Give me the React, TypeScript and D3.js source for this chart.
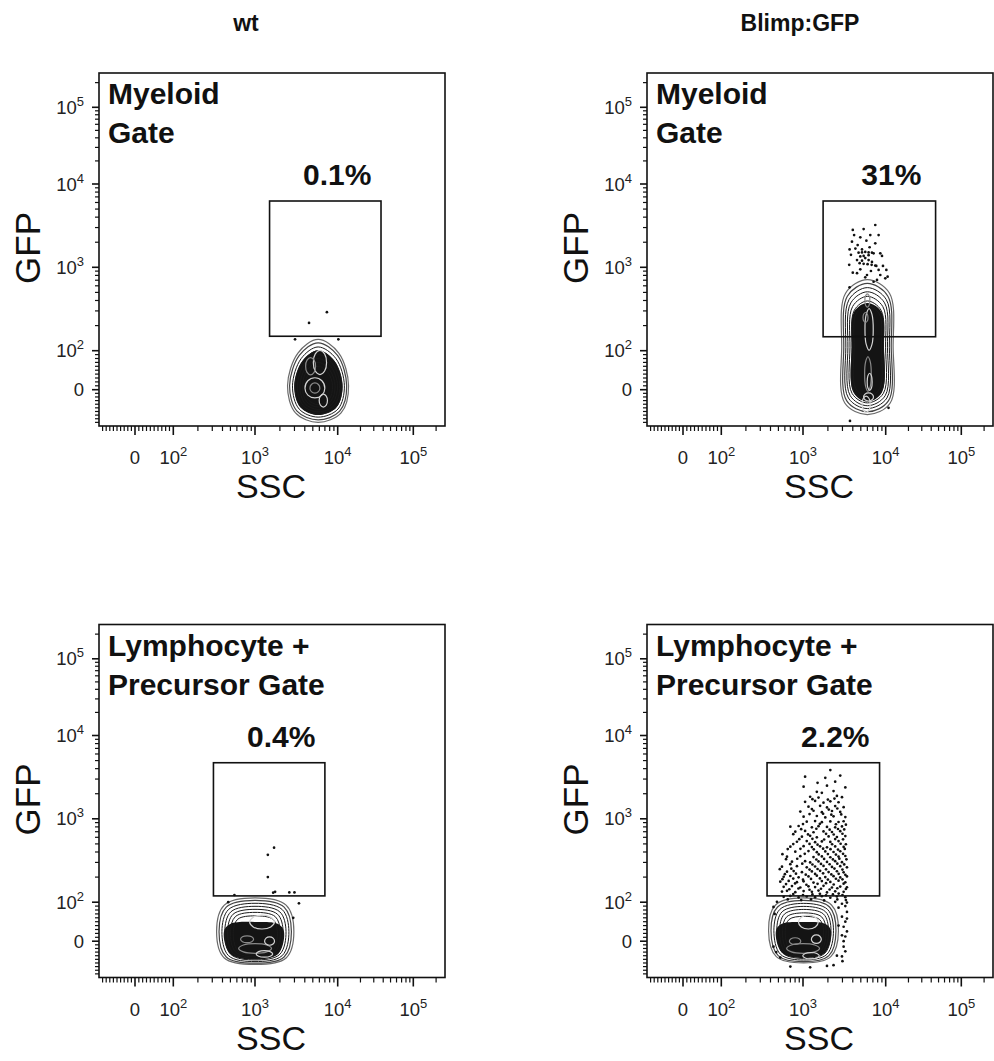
import React from 'react';
import * as d3 from 'd3';

const FONT = '"Liberation Sans", Arial, Helvetica, sans-serif';

// headers and annotations
const columnTitles = ['wt', 'Blimp:GFP'];
const rowGateNames = [['Myeloid', 'Gate'], ['Lymphocyte +', 'Precursor Gate']];
const gatePercents = ['0.1%', '31%', '0.4%', '2.2%'];

// GFP+ gate per panel: [sscMin, sscMax, gfpMin, gfpMax]
const gateBounds = [
  [1500, 37400, 149, 6250],
  [1750, 45700, 147, 6250],
  [310, 7000, 119, 4710],
  [363, 8430, 119, 4710],
];

// centre of the main population per panel: [ssc, gfp]
const clusterCenters = [[5800, 10], [6000, 110], [1000, 25], [1020, 27]];

// contour levels, outer -> inner, extents [left, right, up, down] in display decades
const contoursTL = [
  [0.37, 0.38, 0.54, 0.45],
  [0.345, 0.355, 0.5, 0.42],
  [0.31, 0.325, 0.45, 0.385],
  [0.28, 0.295, 0.405, 0.35],
  [0.25, 0.265, 0.36, 0.32],
  [0.22, 0.235, 0.315, 0.29],
  [0.19, 0.205, 0.27, 0.26],
  [0.16, 0.175, 0.225, 0.23],
];
const contoursTR = [
  [0.31, 0.32, 0.81, 0.8],
  [0.285, 0.295, 0.765, 0.765],
  [0.26, 0.27, 0.715, 0.725],
  [0.235, 0.245, 0.665, 0.69],
  [0.21, 0.22, 0.61, 0.655],
  [0.185, 0.195, 0.555, 0.62],
  [0.16, 0.17, 0.5, 0.58],
];
const contoursBL = [
  [0.47, 0.47, 0.39, 0.4],
  [0.44, 0.44, 0.36, 0.385],
  [0.405, 0.41, 0.325, 0.365],
  [0.37, 0.375, 0.29, 0.345],
  [0.335, 0.34, 0.255, 0.325],
  [0.3, 0.305, 0.22, 0.305],
  [0.265, 0.27, 0.18, 0.285],
];
const contoursBR = [
  [0.43, 0.42, 0.38, 0.39],
  [0.4, 0.39, 0.35, 0.375],
  [0.365, 0.36, 0.315, 0.355],
  [0.33, 0.33, 0.28, 0.335],
  [0.295, 0.3, 0.245, 0.315],
  [0.26, 0.27, 0.205, 0.295],
  [0.225, 0.24, 0.165, 0.275],
];
const contourSets = [contoursTL, contoursTR, contoursBL, contoursBR];

// densest region per panel (same extent format)
const coreExtents = [
  [0.29, 0.3, 0.41, 0.36],
  [0.19, 0.2, 0.53, 0.64],
  [0.38, 0.35, 0.11, 0.34],
  [0.34, 0.33, 0.1, 0.33],
];

// contour shape: corner pull [kxTop, kyTop, kxBottom, kyBottom]
const contourShapes = [
  [0.66, 0.7, 0.74, 0.74],
  [0.85, 0.8, 0.88, 0.82],
  [0.8, 0.78, 0.8, 0.8],
  [0.8, 0.78, 0.78, 0.8],
];

// lighter inner contours inside the dense core: [ssc, gfp, rx, ry]
const innerLevels = [
  [[5300, 4, 0.12, 0.12], [5300, 4, 0.06, 0.06], [6100, 70, 0.08, 0.14], [4700, 60, 0.06, 0.1], [6700, -30, 0.05, 0.08]],
  [[6300, 180, 0.05, 0.25], [6100, 40, 0.04, 0.2], [5800, -40, 0.05, 0.1], [6000, 400, 0.03, 0.08],
    [6400, 20, 0.03, 0.1], [5700, 250, 0.03, 0.06], [6200, -20, 0.06, 0.05]],
  [[1215, 49, 0.15, 0.08], [1000, -20, 0.2, 0.06], [1300, -35, 0.1, 0.04], [800, 5, 0.08, 0.04], [1500, 0, 0.06, 0.05]],
  [[1160, 49, 0.12, 0.08], [1000, -20, 0.2, 0.06], [1250, -40, 0.1, 0.04], [800, 0, 0.07, 0.04], [1450, 5, 0.06, 0.05]],
];

// single events drawn as dots: [ssc, gfp]
const dotsTL = [[7400, 290], [4500, 215], [3050, 137], [10200, 137]];
const dotsTR = [
  [7480, 3220], [5410, 2880], [4000, 2810], [8210, 2440], [6510, 2440], [4150, 2440], [4930, 2290],
  [3910, 2030], [5840, 2090], [7480, 1940], [4580, 1850], [3660, 1640], [5170, 1640], [6390, 1740],
  [3800, 1410], [5410, 1370], [7140, 1470], [8600, 1470], [9020, 1370], [4500, 1220], [6210, 1220],
  [3620, 1070], [7700, 1040], [9270, 1040], [4930, 946], [6630, 903], [10200, 929], [4000, 861],
  [8600, 809], [10600, 771], [3660, 575], [5660, 759], [7850, 705], [9890, 738], [7140, 671],
  [4700, 1500], [5170, 1510], [5660, 1530], [6210, 1510], [6820, 1500], [6210, 1400], [5660, 1290],
  [5170, 1200], [4840, 1120], [5410, 1100], [6040, 1090], [6760, 1070], [7480, 1050], [4300, 1680],
  [4930, 1350], [6820, 1160], [8210, 929], [4500, 850], [5940, 809], [10900, -50], [3700, -86],
];
const dotsBL = [
  [1700, 450], [1430, 370], [1430, 200], [1750, 133], [1660, 130], [2600, 131], [3000, 131],
  [3400, 97], [560, 122], [470, 100], [2900, 60],
];
const dotsBR = [
  [2140, 3850], [1060, 3200], [1860, 3100], [2820, 3300], [2450, 2790], [1500, 2700],
  [1017, 2430], [1950, 2500], [3250, 2380], [1470, 2110], [1690, 2050], [2340, 2150],
  [1220, 1840], [1540, 1800], [2570, 1880], [2960, 1820], [1300, 1720], [2000, 1700], [2400, 1750],
  [1060, 1600], [1400, 1640], [1770, 1560], [2140, 1620], [2690, 1580],
  [1165, 1400], [1610, 1430], [1950, 1370], [2450, 1420], [3100, 1380],
  [1280, 1310], [2050, 1290], [2600, 1330],
  [927, 1220], [1340, 1250], [1690, 1200], [2240, 1240], [2820, 1210],
  [1200, 1140], [1750, 1150], [2900, 1130], [2200, 1120],
  [1017, 1060], [1470, 1080], [1860, 1040], [2340, 1070], [3250, 1050],
  [1110, 923], [1400, 940], [1690, 910], [2140, 930], [2690, 915], [3100, 935],
  [1000, 865], [1600, 870], [2500, 860], [3300, 850],
  [700, 804], [884, 820], [1280, 790], [1540, 815], [1950, 800], [2450, 790], [2960, 810],
  [950, 750], [1450, 760], [2100, 740], [2650, 755], [3150, 745],
  [805, 700], [1060, 715], [1340, 690], [1770, 705], [2240, 695], [2820, 710],
  [760, 655], [1150, 650], [1900, 660], [2350, 648], [3000, 662],
  [970, 610], [1220, 625], [1470, 600], [2040, 615], [2570, 605], [3250, 620],
  [900, 570], [1300, 575], [1800, 565], [2450, 572], [3050, 568],
  [843, 531], [1110, 540], [1400, 525], [1690, 535], [2140, 528], [2690, 540],
  [760, 497], [1200, 500], [1500, 490], [2250, 495], [2850, 502], [3300, 495],
  [700, 463], [1017, 470], [1280, 458], [1610, 468], [1950, 455], [2450, 466], [3100, 460],
  [650, 433], [930, 436], [1350, 430], [1750, 438], [2150, 432], [2650, 428], [3200, 435],
  [805, 403], [1165, 410], [1470, 398], [1860, 406], [2340, 400], [2820, 408],
  [560, 377], [1050, 380], [1550, 374], [2000, 378], [2500, 372], [3050, 380],
  [637, 351], [927, 356], [1340, 348], [1690, 354], [2140, 346], [2690, 352], [3250, 358],
  [620, 328], [850, 332], [1450, 325], [1800, 330], [2300, 326], [2750, 333], [3350, 327],
  [733, 306], [1060, 310], [1220, 300], [1540, 308], [1950, 304], [2450, 310], [2960, 302],
  [700, 286], [980, 290], [1300, 283], [1650, 288], [2100, 285], [2600, 290], [3150, 284],
  [553, 267], [843, 270], [1110, 262], [1400, 268], [1770, 272], [2240, 265], [2820, 270], [3400, 262],
  [520, 249], [720, 252], [1200, 246], [1500, 250], [1900, 248], [2400, 253], [3000, 246],
  [637, 232], [768, 236], [970, 229], [1280, 234], [1610, 238], [2040, 230], [2570, 235], [3100, 228],
  [600, 217], [820, 220], [1080, 214], [1400, 218], [1750, 222], [2200, 215], [2700, 219], [3250, 213],
  [580, 202], [700, 206], [884, 199], [1165, 204], [1470, 208], [1860, 200], [2340, 205], [2820, 198], [3400, 204],
  [560, 189], [760, 192], [1000, 186], [1250, 190], [1600, 193], [2000, 187], [2500, 191], [3000, 188],
  [527, 176], [668, 180], [843, 174], [1017, 178], [1340, 172], [1690, 179], [2140, 175], [2690, 181], [3250, 173],
  [620, 165], [800, 168], [1100, 162], [1500, 166], [1900, 169], [2350, 163], [3100, 167],
  [580, 153], [733, 156], [927, 150], [1165, 155], [1400, 152], [1770, 157], [2240, 150], [2820, 154], [3400, 151],
  [680, 143], [880, 146], [1200, 141], [1650, 145], [2100, 142], [2600, 147], [3300, 144],
  [553, 134], [637, 137], [805, 132], [1017, 136], [1280, 133], [1540, 138], [1950, 131], [2450, 135], [3100, 133],
  [580, 116], [700, 119], [884, 114], [1110, 117], [1400, 115], [1690, 118], [2140, 113], [2570, 117], [3250, 115],
  [760, 125], [1000, 122], [1300, 124], [1600, 126], [1900, 121], [2300, 124], [2700, 127], [3000, 122],
  [650, 108], [950, 106], [1250, 108], [1800, 105], [2600, 108], [3300, 106],
  [480, 101], [2450, 101], [2960, 96], [3400, 99], [435, 88], [2690, 86], [3250, 90],
  [2960, 63], [3400, 58], [3100, 37], [2690, 40], [3250, 12], [2960, 15], [3100, -15], [435, -15],
  [2960, -42], [527, -45], [2570, -40], [700, -70], [1220, -72], [1950, -68], [2340, -66],
  [3400, 75], [3250, 50], [3400, 25], [3100, 0], [3250, -28], [3000, -55], [450, 70], [470, -30],
];
const dotSets = [dotsTL, dotsTR, dotsBL, dotsBR];

// biexponential-like display: linear around zero, log10 above 100
const toDisplay = (v) => (v >= 100 ? Math.log10(v) : 1.55 + (0.45 * v) / 100);
const T_BREAKS = [toDisplay(-100), toDisplay(0), 2, 3, 4, 5, Math.log10(262144)];
const X_PIX = [0, 36, 74.3, 156, 238.7, 314.3, 346];
const Y_PIX = [353, 316.7, 277.7, 194.3, 111, 34.3, 0];
const W = 346;
const H = 353;

const majorTicks = [0, 100, 1000, 10000, 100000];
const minorTicks = [
  -90, -80, -70, -60, -50, -40, -30, -20, -10, 10, 20, 30, 40, 50, 60, 70, 80, 90,
  200, 300, 400, 500, 600, 700, 800, 900, 2000, 3000, 4000, 5000, 6000, 7000, 8000, 9000,
  20000, 30000, 40000, 50000, 60000, 70000, 80000, 90000, 200000,
];

const panelOrigins = [[99, 73], [647, 73], [99, 624.5], [647, 624.5]];

const lineGen = d3.line().curve(d3.curveCatmullRomClosed.alpha(0.5));

function shapePath(cx, cy, ext, k, xs, ys) {
  const [l, r, u, d] = ext;
  const [kxT, kyT, kxB, kyB] = k;
  const pts = [
    [cx + r, cy], [cx + r * kxT, cy + u * kyT], [cx, cy + u], [cx - l * kxT, cy + u * kyT],
    [cx - l, cy], [cx - l * kxB, cy - d * kyB], [cx, cy - d], [cx + r * kxB, cy - d * kyB],
  ];
  return lineGen(pts.map(([a, b]) => [xs(a), ys(b)]));
}

function TickLabel({ value, x, y, anchor }) {
  if (value === 0) {
    return <text x={x} y={y} textAnchor={anchor} fontSize={18.5} fill="#222">0</text>;
  }
  const exp = Math.round(Math.log10(value));
  return (
    <text x={x} y={y} textAnchor={anchor} fontSize={18.5} fill="#222">
      10<tspan dy={-8} fontSize={13}>{exp}</tspan>
    </text>
  );
}

function Panel({ idx }) {
  const [left, top] = panelOrigins[idx];
  const xs = d3.scaleLinear().domain(T_BREAKS).range(X_PIX.map((p) => left + p));
  const ys = d3.scaleLinear().domain(T_BREAKS).range(Y_PIX.map((p) => top + p));
  const sx = (v) => xs(toDisplay(v));
  const sy = (v) => ys(toDisplay(v));
  const bottom = top + H;

  const [cxv, cyv] = clusterCenters[idx];
  const cx = toDisplay(cxv);
  const cy = toDisplay(cyv);
  const k = contourShapes[idx];
  const rings = contourSets[idx];
  const gate = gateBounds[idx];
  const gx0 = sx(gate[0]);
  const gx1 = sx(gate[1]);
  const gy0 = sy(gate[3]);
  const gy1 = sy(gate[2]);
  const names = rowGateNames[Math.floor(idx / 2)];
  const circleK = [0.707, 0.707, 0.707, 0.707];

  return (
    <g>
      {/* population contours */}
      <path d={shapePath(cx, cy, coreExtents[idx], k, xs, ys)} fill="#141414" />
      {rings.map((ext, i) => (
        <path
          key={'r' + i}
          d={shapePath(cx, cy, ext, k, xs, ys)}
          fill="none"
          stroke={i === 0 ? '#6a6a6a' : i === 1 ? '#444' : '#1a1a1a'}
          strokeWidth={i < 2 ? 1.2 : 1}
        />
      ))}
      {innerLevels[idx].map(([a, b, rx, ry], i) => (
        <path
          key={'h' + i}
          d={shapePath(toDisplay(a), toDisplay(b), [rx, rx, ry, ry], circleK, xs, ys)}
          fill="none"
          stroke={i % 2 === 0 ? '#d4d4d4' : '#8a8a8a'}
          strokeWidth={1.2}
        />
      ))}
      {dotSets[idx].map(([a, b], i) => (
        <circle key={'d' + i} cx={sx(a)} cy={sy(b)} r={1.35} fill="#111" />
      ))}

      {/* gate */}
      <rect x={gx0} y={gy0} width={gx1 - gx0} height={gy1 - gy0} fill="none" stroke="#111" strokeWidth={1.6} />
      <text x={(gx0 + gx1) / 2 + 12} y={gy0 - 16} textAnchor="middle" fontSize={30} fontWeight="bold" fill="#111">
        {gatePercents[idx]}
      </text>

      {/* frame */}
      <rect x={left} y={top} width={W} height={H} fill="none" stroke="#111" strokeWidth={1.6} />
      <text x={left + 9} y={top + 31} fontSize={30} fontWeight="bold" fill="#111">{names[0]}</text>
      <text x={left + 9} y={top + 70} fontSize={30} fontWeight="bold" fill="#111">{names[1]}</text>

      {/* x axis */}
      {minorTicks.map((v) => (
        <line key={'xm' + v} x1={sx(v)} x2={sx(v)} y1={bottom} y2={bottom + 5} stroke="#111" strokeWidth={1.2} />
      ))}
      {majorTicks.map((v) => (
        <line key={'xM' + v} x1={sx(v)} x2={sx(v)} y1={bottom} y2={bottom + 9} stroke="#111" strokeWidth={1.6} />
      ))}
      {majorTicks.map((v) => (
        <TickLabel key={'xl' + v} value={v} x={sx(v)} y={bottom + 38} anchor="middle" />
      ))}
      <text x={left + 172} y={bottom + 72} textAnchor="middle" fontSize={34} fill="#111">SSC</text>

      {/* y axis */}
      {minorTicks.map((v) => (
        <line key={'ym' + v} x1={left} x2={left - 4} y1={sy(v)} y2={sy(v)} stroke="#111" strokeWidth={1.2} />
      ))}
      {majorTicks.map((v) => (
        <line key={'yM' + v} x1={left} x2={left - 7} y1={sy(v)} y2={sy(v)} stroke="#111" strokeWidth={1.6} />
      ))}
      {majorTicks.map((v) => (
        <TickLabel key={'yl' + v} value={v} x={left - 15} y={sy(v) + 6.5} anchor="end" />
      ))}
      <text
        transform={`translate(${left - 59},${top + 175}) rotate(-90)`}
        textAnchor="middle"
        fontSize={35}
        fill="#111"
      >
        GFP
      </text>
    </g>
  );
}

export default function App() {
  return (
    <svg
      width={994}
      height={1061}
      style={{ position: 'absolute', left: 0, top: 0, background: '#fff' }}
      fontFamily={FONT}
    >
      <rect width={994} height={1061} fill="#fff" />
      <text x={246} y={31} textAnchor="middle" fontSize={23} fontWeight="bold" fill="#111">{columnTitles[0]}</text>
      <text x={800} y={31} textAnchor="middle" fontSize={23} fontWeight="bold" fill="#111">{columnTitles[1]}</text>
      {[0, 1, 2, 3].map((i) => (
        <Panel key={i} idx={i} />
      ))}
    </svg>
  );
}
